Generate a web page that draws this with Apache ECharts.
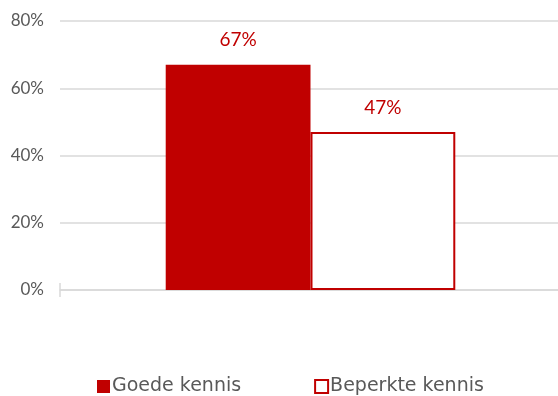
<!DOCTYPE html>
<html>
<head>
<meta charset="utf-8">
<script src="https://cdn.jsdelivr.net/npm/echarts@6/dist/echarts.min.js"></script>
<style>
  html, body { margin: 0; padding: 0; background: #fff; }
  #chart { width: 558px; height: 396px; }
</style>
</head>
<body>
<div id="chart"></div>
<script>
// Share of respondents by knowledge level
const categories = [''];
const seriesNames = ['Goede kennis', 'Beperkte kennis'];
const goedeKennis = [67];
const beperkteKennis = [47];
const yTicks = { min: 0, max: 80, interval: 20 };

const RED = '#C00000';
const GRID_GREY = '#d9d9d9';
const chart = echarts.init(document.getElementById('chart'), null, { renderer: 'canvas' });

const valueLabel = {
  show: true,
  position: 'top',
  distance: 15,
  formatter: '{c}%',
  color: RED,
  fontFamily: 'Lato',
  fontSize: 19
};

chart.setOption({
  animation: false,
  backgroundColor: '#ffffff',
  grid: {
    left: 60, width: 501, top: 21, height: 269,
    containLabel: false,
    outerBoundsMode: 'none'
  },
  legend: {
    top: 377,
    left: 97,
    padding: 0,
    itemWidth: 13,
    itemHeight: 13,
    itemGap: 73,
    icon: 'rect',
    textStyle: { fontFamily: 'DejaVu Sans', fontSize: 19, color: '#595959', padding: [0, 0, 0, -3] },
    data: [
      { name: seriesNames[0], itemStyle: { color: RED, borderWidth: 0 } },
      { name: seriesNames[1], itemStyle: { color: '#ffffff', borderColor: RED, borderWidth: 2 } }
    ]
  },
  xAxis: [
    {
      type: 'category',
      data: categories,
      axisLine: { lineStyle: { color: GRID_GREY, width: 1.5 } },
      axisTick: { show: true, length: 7, lineStyle: { color: GRID_GREY, width: 1.5 } },
      axisLabel: { show: false }
    },
    {
      // inner half of the boundary tick, drawn above the baseline
      type: 'category',
      data: categories,
      position: 'bottom',
      axisLine: { show: false },
      axisTick: { show: true, inside: true, length: 7, lineStyle: { color: GRID_GREY, width: 1.5 } },
      axisLabel: { show: false }
    }
  ],
  yAxis: {
    type: 'value',
    min: yTicks.min,
    max: yTicks.max,
    interval: yTicks.interval,
    axisLine: { show: false },
    axisTick: { show: false },
    splitLine: { lineStyle: { color: GRID_GREY, width: 1.5 } },
    axisLabel: {
      formatter: '{value}%',
      color: '#595959',
      fontFamily: 'Lato',
      fontSize: 17,
      margin: 16
    }
  },
  series: [
    {
      name: seriesNames[0],
      type: 'bar',
      data: goedeKennis,
      barGap: '0%',
      barCategoryGap: '42.2%',
      itemStyle: { color: RED },
      label: valueLabel
    },
    {
      name: seriesNames[1],
      type: 'bar',
      data: beperkteKennis,
      barGap: '0%',
      barCategoryGap: '42.2%',
      itemStyle: { color: '#ffffff', borderColor: RED, borderWidth: 2 },
      label: valueLabel
    }
  ]
});
</script>
</body>
</html>
